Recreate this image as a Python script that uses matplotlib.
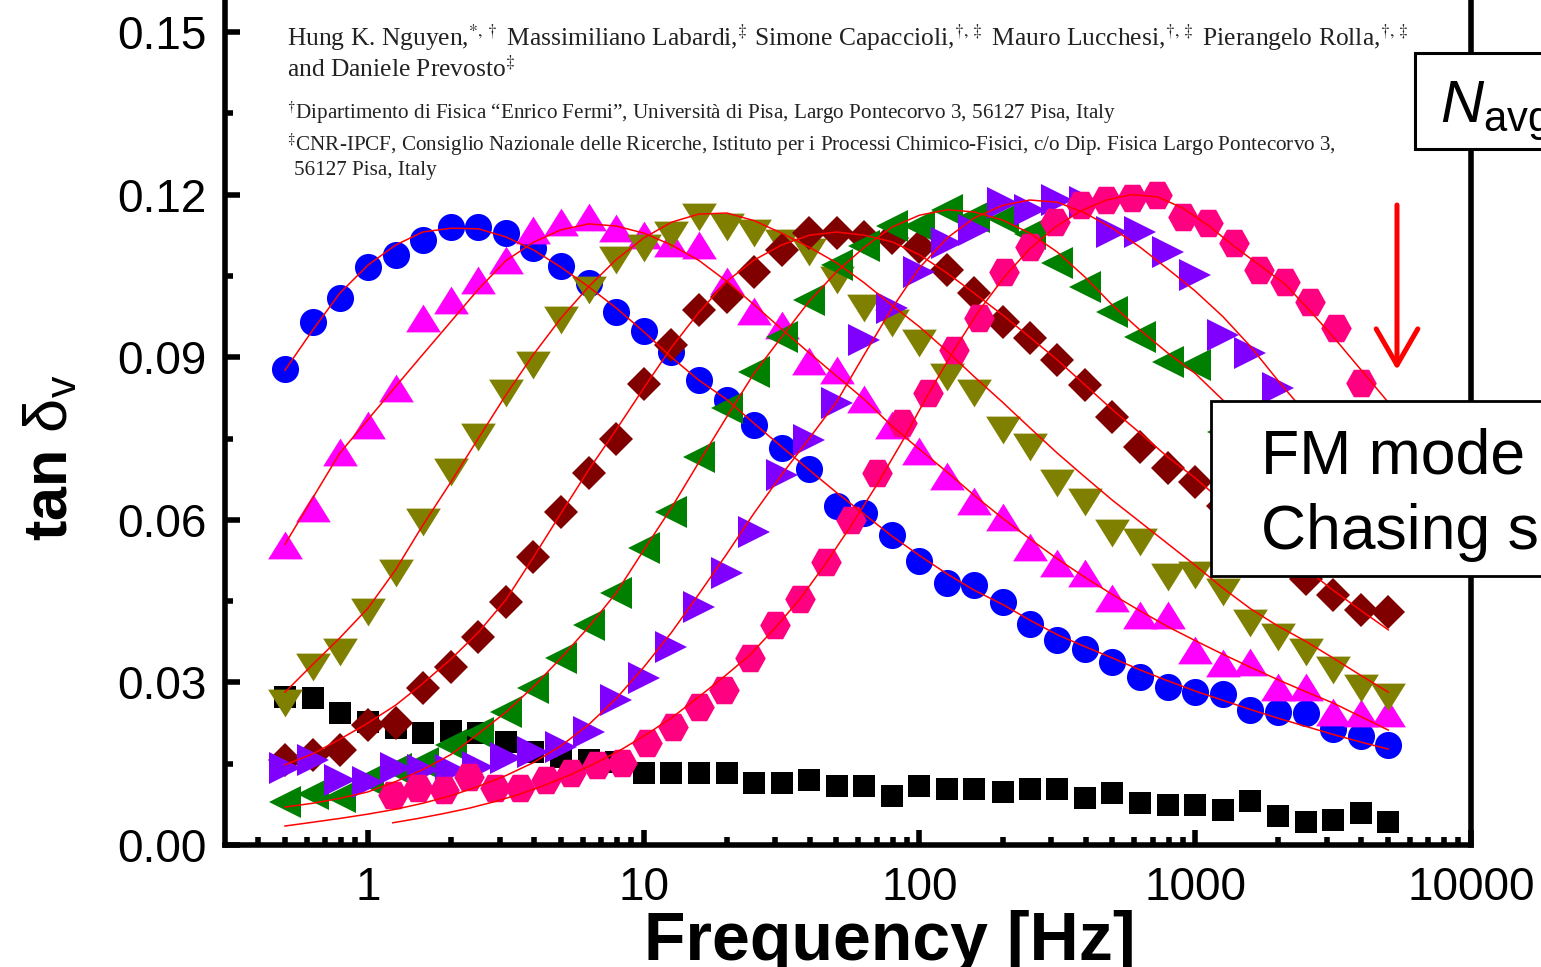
import matplotlib
matplotlib.use("Agg")
import matplotlib.pyplot as plt
from matplotlib.patches import Rectangle, FancyArrowPatch
from matplotlib.ticker import FixedLocator, LogLocator, MultipleLocator, FormatStrFormatter, NullFormatter

plt.rcParams['font.family'] = 'Liberation Sans'
plt.rcParams['mathtext.fontset'] = 'custom'
plt.rcParams['mathtext.rm'] = 'Liberation Sans'
plt.rcParams['mathtext.it'] = 'Liberation Sans:italic'
plt.rcParams['mathtext.bf'] = 'Liberation Sans:bold'

# frequency sweep (Hz) shared by most curves
freq = [0.5, 0.63, 0.79, 1.0, 1.26, 1.58, 2.0, 2.51, 3.16, 3.98,
        5.01, 6.31, 7.94, 10.0, 12.6, 15.8, 20.0, 25.1, 31.6, 39.8,
        50.1, 63.1, 79.4, 100, 126, 158, 200, 251, 316, 398,
        501, 631, 794, 1000, 1259, 1585, 1995, 2512, 3162, 3981, 5012]

# pink sweep is offset and slightly denser
freq_pink = [1.23, 1.52, 1.88, 2.33, 2.88, 3.56, 4.41, 5.45, 6.75, 8.35,
             10.3, 12.8, 15.8, 19.5, 24.2, 29.9, 37.0, 45.8, 56.6, 70.1,
             86.7, 107, 133, 164, 203, 251, 311, 385, 476, 589,
             729, 902, 1116, 1380, 1708, 2113, 2614, 3234, 4001]
freq_pink_fit = freq_pink + [4950]

tan_black = [0.0273, 0.0271, 0.0244, 0.0227, 0.0216, 0.0207, 0.0210, 0.0207, 0.0190, 0.0172,
             0.0162, 0.0157, 0.0153, 0.0133, 0.0133, 0.0133, 0.0133, 0.0114, 0.0114, 0.0120,
             0.0109, 0.0109, 0.0090, 0.0109, 0.0103, 0.0103, 0.0098, 0.0103, 0.0103, 0.0087,
             0.0096, 0.0077, 0.0074, 0.0074, 0.0065, 0.0081, 0.0054, 0.0042, 0.0046, 0.0059, 0.0042]

tan_blue = [0.0878, 0.0965, 0.1009, 0.1066, 0.1089, 0.1116, 0.1140, 0.1140, 0.1129, 0.1101,
            0.1068, 0.1037, 0.0983, 0.0948, 0.0910, 0.0858, 0.0821, 0.0775, 0.0732, 0.0694,
            0.0625, 0.0613, 0.0572, 0.0524, 0.0483, 0.0480, 0.0448, 0.0408, 0.0378, 0.0362,
            0.0338, 0.0310, 0.0291, 0.0282, 0.0279, 0.0249, 0.0245, 0.0244, 0.0214, 0.0201, 0.0185]
fit_blue = [0.0876, 0.0950, 0.1018, 0.1070, 0.1107, 0.1131, 0.1138, 0.1137, 0.1122, 0.1098,
            0.1066, 0.1030, 0.0991, 0.0947, 0.0900, 0.0858, 0.0822, 0.0778, 0.0735, 0.0692,
            0.0650, 0.0610, 0.0570, 0.0534, 0.0500, 0.0470, 0.0444, 0.0415, 0.0388, 0.0366,
            0.0345, 0.0323, 0.0303, 0.0284, 0.0267, 0.0250, 0.0234, 0.0219, 0.0204, 0.0190, 0.0177]

tan_magenta = [0.0553, 0.0622, 0.0725, 0.0775, 0.0843, 0.0972, 0.1005, 0.1042, 0.1079, 0.1135,
               0.1149, 0.1159, 0.1138, 0.1125, 0.1110, 0.1107, 0.1040, 0.0985, 0.0959, 0.0893,
               0.0876, 0.0823, 0.0775, 0.0727, 0.0681, 0.0635, 0.0605, 0.0550, 0.0520, 0.0502,
               0.0456, 0.0424, 0.0424, 0.0360, 0.0336, 0.0338, 0.0292, 0.0292, 0.0245, 0.0244, 0.0244]
fit_magenta = [0.0555, 0.0640, 0.0723, 0.0785, 0.0846, 0.0905, 0.0966, 0.1025, 0.1078, 0.1112,
               0.1135, 0.1146, 0.1142, 0.1129, 0.1107, 0.1079, 0.1040, 0.0997, 0.0952, 0.0908,
               0.0865, 0.0822, 0.0773, 0.0730, 0.0688, 0.0645, 0.0603, 0.0565, 0.0528, 0.0494,
               0.0462, 0.0432, 0.0403, 0.0377, 0.0352, 0.0328, 0.0305, 0.0283, 0.0262, 0.0237, 0.0212]

tan_olive = [0.0262, 0.0328, 0.0356, 0.0430, 0.0502, 0.0596, 0.0688, 0.0753, 0.0834, 0.0886,
             0.0969, 0.1024, 0.1079, 0.1101, 0.1125, 0.1159, 0.1140, 0.1129, 0.1110, 0.1094,
             0.1042, 0.0991, 0.0963, 0.0926, 0.0863, 0.0834, 0.0766, 0.0734, 0.0668, 0.0633,
             0.0576, 0.0559, 0.0494, 0.0498, 0.0467, 0.0410, 0.0384, 0.0356, 0.0323, 0.0290, 0.0273]
fit_olive = [0.0282, 0.0333, 0.0382, 0.0437, 0.0508, 0.0590, 0.0670, 0.0750, 0.0830, 0.0905,
             0.0972, 0.1030, 0.1080, 0.1120, 0.1149, 0.1164, 0.1166, 0.1152, 0.1129, 0.1103,
             0.1074, 0.1037, 0.0996, 0.0956, 0.0911, 0.0864, 0.0817, 0.0770, 0.0723, 0.0679,
             0.0636, 0.0596, 0.0556, 0.0516, 0.0474, 0.0436, 0.0404, 0.0376, 0.0345, 0.0313, 0.0282]

tan_darkred = [0.0157, 0.0166, 0.0175, 0.0221, 0.0225, 0.0290, 0.0328, 0.0384, 0.0448, 0.0531,
               0.0614, 0.0686, 0.0749, 0.0851, 0.0923, 0.0987, 0.1011, 0.1057, 0.1098, 0.1129,
               0.1129, 0.1122, 0.1120, 0.1103, 0.1061, 0.1018, 0.0965, 0.0935, 0.0895, 0.0849,
               0.0790, 0.0734, 0.0696, 0.0670, 0.0625, 0.0580, 0.0535, 0.0490, 0.0461, 0.0434, 0.0430]
fit_darkred = [0.0148, 0.0168, 0.0195, 0.0225, 0.0258, 0.0298, 0.0343, 0.0392, 0.0452, 0.0531,
               0.0612, 0.0692, 0.0766, 0.0843, 0.0918, 0.0982, 0.1040, 0.1079, 0.1107, 0.1125,
               0.1131, 0.1125, 0.1113, 0.1089, 0.1055, 0.1018, 0.0978, 0.0937, 0.0895, 0.0849,
               0.0803, 0.0760, 0.0716, 0.0677, 0.0633, 0.0590, 0.0550, 0.0510, 0.0470, 0.0433, 0.0397]

tan_green = [0.0079, 0.0094, 0.0089, 0.0120, 0.0140, 0.0151, 0.0185, 0.0207, 0.0245, 0.0290,
             0.0345, 0.0406, 0.0465, 0.0548, 0.0614, 0.0716, 0.0806, 0.0873, 0.0937, 0.1005,
             0.1070, 0.1105, 0.1142, 0.1142, 0.1172, 0.1159, 0.1155, 0.1127, 0.1074, 0.1029,
             0.0983, 0.0937, 0.0891, 0.0886, 0.0762, 0.0725, 0.0690, 0.0655, 0.0620, 0.0590, 0.0560]
fit_green = [0.0070, 0.0077, 0.0086, 0.0098, 0.0117, 0.0139, 0.0167, 0.0205, 0.0245, 0.0292,
             0.0345, 0.0402, 0.0465, 0.0544, 0.0622, 0.0705, 0.0790, 0.0870, 0.0937, 0.1003,
             0.1058, 0.1103, 0.1140, 0.1162, 0.1172, 0.1168, 0.1153, 0.1129, 0.1094, 0.1048,
             0.0996, 0.0950, 0.0908, 0.0870, 0.0821, 0.0775, 0.0730, 0.0688, 0.0650, 0.0612, 0.0578]

tan_purple = [0.0142, 0.0157, 0.0120, 0.0116, 0.0142, 0.0138, 0.0138, 0.0144, 0.0160, 0.0172,
              0.0181, 0.0208, 0.0268, 0.0308, 0.0365, 0.0439, 0.0502, 0.0578, 0.0683, 0.0747,
              0.0815, 0.0932, 0.0990, 0.1057, 0.1110, 0.1135, 0.1184, 0.1172, 0.1190, 0.1186,
              0.1131, 0.1131, 0.1094, 0.1052, 0.0941, 0.0908, 0.0843, 0.0780, 0.0720, 0.0660, 0.0610]
fit_purple = [0.0035, 0.0042, 0.0049, 0.0057, 0.0066, 0.0077, 0.0091, 0.0108, 0.0128, 0.0152,
              0.0183, 0.0222, 0.0270, 0.0328, 0.0392, 0.0462, 0.0537, 0.0612, 0.0683, 0.0750,
              0.0818, 0.0905, 0.0990, 0.1065, 0.1120, 0.1157, 0.1180, 0.1190, 0.1186, 0.1166,
              0.1138, 0.1103, 0.1063, 0.1022, 0.0975, 0.0920, 0.0857, 0.0797, 0.0742, 0.0690, 0.0640]

tan_pink = [0.0092, 0.0105, 0.0101, 0.0125, 0.0105, 0.0105, 0.0120, 0.0133, 0.0148, 0.0151,
            0.0188, 0.0218, 0.0255, 0.0286, 0.0345, 0.0406, 0.0454, 0.0522, 0.0600, 0.0686,
            0.0779, 0.0834, 0.0913, 0.0972, 0.1057, 0.1103, 0.1149, 0.1181, 0.1190, 0.1194,
            0.1200, 0.1159, 0.1148, 0.1111, 0.1061, 0.1039, 0.1002, 0.0954, 0.0852]
fit_pink = [0.0041, 0.0049, 0.0058, 0.0068, 0.0080, 0.0094, 0.0111, 0.0130, 0.0152, 0.0177,
            0.0205, 0.0237, 0.0273, 0.0310, 0.0350, 0.0400, 0.0455, 0.0520, 0.0590, 0.0665,
            0.0745, 0.0830, 0.0912, 0.0985, 0.1048, 0.1100, 0.1140, 0.1170, 0.1190, 0.1200,
            0.1196, 0.1175, 0.1143, 0.1105, 0.1070, 0.1035, 0.0985, 0.0932, 0.0876, 0.0820]

x_ticks = [1, 10, 100, 1000, 10000]
x_ticklabels = ['1', '10', '100', '1000', '10000']

# slightly squat triangles and a flat-topped hexagon
tri_up = [(-1, -0.8), (1, -0.8), (0, 0.8), (-1, -0.8)]
tri_down = [(-1, 0.8), (1, 0.8), (0, -0.8), (-1, 0.8)]
hexagon = [(-1, 0), (-0.5, 0.9), (0.5, 0.9), (1, 0), (0.5, -0.9), (-0.5, -0.9), (-1, 0)]

fig = plt.figure(figsize=(15.41, 9.67), dpi=100)
ax = fig.add_axes([225 / 1541, 122 / 967, 1246 / 1541, 894.3 / 967])

ax.plot(freq, tan_black, ls='none', marker='s', ms=15.5, mew=0, color='#000000', zorder=2)
points = [
    (freq, tan_blue, 'o', 19.5, '#0000FF'),
    (freq, tan_magenta, tri_up, 25, '#FF00FF'),
    (freq, tan_olive, tri_down, 25, '#808000'),
    (freq, tan_darkred, 'D', 17.5, '#800000'),
    (freq, tan_green, '<', 23, '#008000'),
    (freq, tan_purple, '>', 23, '#8000FF'),
    (freq_pink, tan_pink, hexagon, 22, '#FF0080'),
]
for f, v, m, s, c in points:
    ax.plot(f, v, ls='none', marker=m, ms=s, mew=0, color=c, zorder=2)

fits = [(freq, fit_blue), (freq, fit_magenta), (freq, fit_olive), (freq, fit_darkred),
        (freq, fit_green), (freq, fit_purple), (freq_pink_fit, fit_pink)]
for f, v in fits:
    ax.plot(f, v, color='red', lw=1.1, zorder=3)

ax.set_xscale('log')
ax.set_xlim(0.303, 10000)
ax.set_ylim(0, 0.165)

ax.xaxis.set_major_locator(FixedLocator(x_ticks))
ax.set_xticklabels(x_ticklabels)
ax.xaxis.set_minor_locator(LogLocator(base=10, subs=range(2, 10), numticks=20))
ax.xaxis.set_minor_formatter(NullFormatter())
ax.yaxis.set_major_locator(MultipleLocator(0.03))
ax.yaxis.set_major_formatter(FormatStrFormatter('%.2f'))
ax.yaxis.set_minor_locator(MultipleLocator(0.015))

ax.tick_params(which='both', direction='in', top=False, right=False, width=4)
ax.tick_params(which='major', length=11, labelsize=33)
ax.tick_params(which='minor', length=6)
ax.tick_params(axis='x', which='major', pad=15)
ax.tick_params(axis='y', which='major', pad=13)
for sp in ax.spines.values():
    sp.set_linewidth(4)

fig.text(890 / 1541, 1 - 960 / 967, 'Frequency [Hz]', fontsize=49, fontweight='bold',
         ha='center', va='baseline')
fig.text(52 / 1541, 1 - 458 / 967, r'tan $\mathrm{\delta_v}$', fontsize=44, fontweight='bold',
         rotation=90, ha='center', va='center')

# author block pasted over the top of the plot
serif = dict(family='Liberation Serif', color='#222222', math_fontfamily='stix', va='baseline')
fig.text(287 / 1541, 1 - 46 / 967,
         r'Hung K. Nguyen,$^{*,\dagger}$ Massimiliano Labardi,$^{\ddagger}$ Simone Capaccioli,$^{\dagger,\ddagger}$'
         r' Mauro Lucchesi,$^{\dagger,\ddagger}$ Pierangelo Rolla,$^{\dagger,\ddagger}$',
         fontsize=18.4, **serif)
fig.text(287 / 1541, 1 - 77 / 967, r'and Daniele Prevosto$^{\ddagger}$', fontsize=18.4, **serif)
fig.text(287 / 1541, 1 - 119 / 967,
         '$^{\\dagger}$Dipartimento di Fisica \u201cEnrico Fermi\u201d, Universit\u00e0 di Pisa, '
         'Largo Pontecorvo 3, 56127 Pisa, Italy', fontsize=15.2, **serif)
fig.text(287 / 1541, 1 - 151 / 967,
         '$^{\\ddagger}$CNR-IPCF, Consiglio Nazionale delle Ricerche, Istituto per i Processi '
         'Chimico-Fisici, c/o Dip. Fisica Largo Pontecorvo 3,', fontsize=15.2, **serif)
fig.text(294 / 1541, 1 - 175 / 967, '56127 Pisa, Italy', fontsize=15.2, **serif)

# annotation boxes on the right
fig.add_artist(Rectangle((1415 / 1541, 1 - 149 / 967), 0.2, 96 / 967, transform=fig.transFigure,
                         facecolor='white', edgecolor='black', lw=2.2))
fig.text(1440 / 1541, 1 - 123 / 967, r'$N_{\mathrm{avg}}$', fontsize=43, va='baseline', zorder=4)

fig.add_artist(Rectangle((1211 / 1541, 1 - 576 / 967), 0.3, 175 / 967, transform=fig.transFigure,
                         facecolor='white', edgecolor='black', lw=2))
fig.text(1261 / 1541, 1 - 474 / 967, 'FM mode', fontsize=45, va='baseline', zorder=4)
fig.text(1261 / 1541, 1 - 549 / 967, 'Chasing s', fontsize=45, va='baseline', zorder=4)

fig.add_artist(FancyArrowPatch((1397 / 1541, 1 - 205 / 967), (1397 / 1541, 1 - 370 / 967),
                               transform=fig.transFigure, color='red', lw=3.6,
                               arrowstyle='->,head_length=1.3,head_width=0.75',
                               mutation_scale=20, shrinkA=0, shrinkB=0))

fig.savefig('out.png', dpi=100)
